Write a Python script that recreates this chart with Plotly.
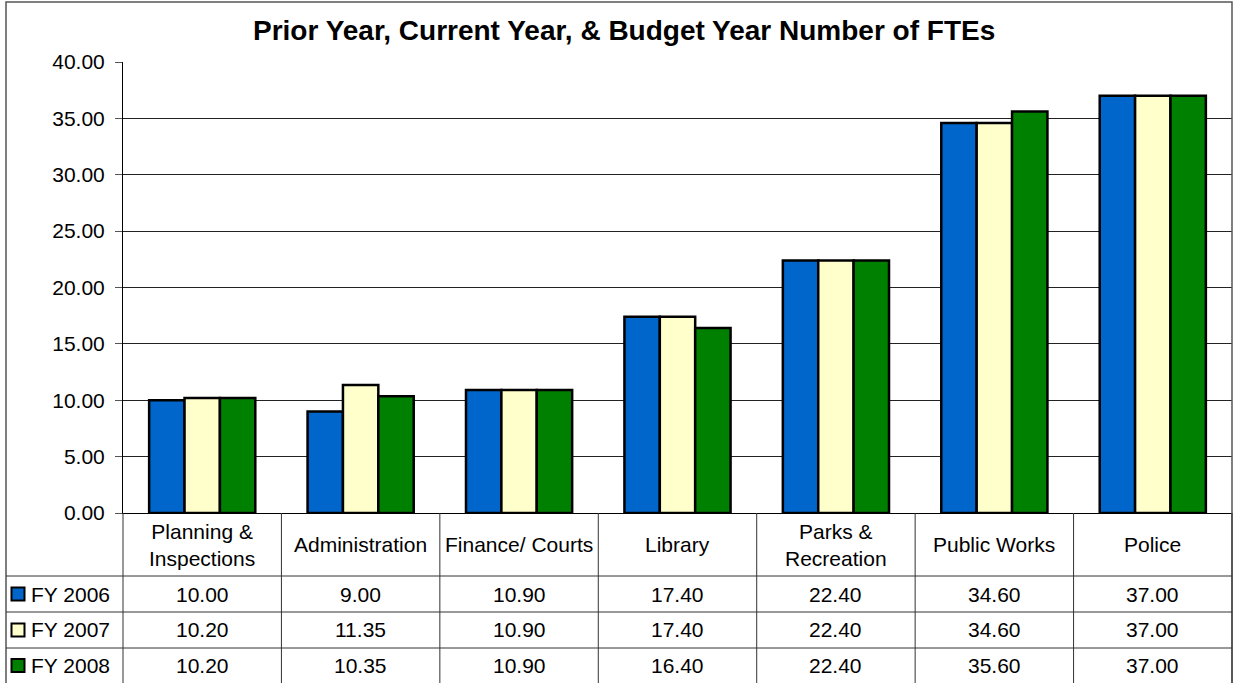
import plotly.graph_objects as go

# ---- data ----
categories = ["Planning &<br>Inspections", "Administration", "Finance/ Courts",
              "Library", "Parks &<br>Recreation", "Public Works", "Police"]
series_names = ["FY 2006", "FY 2007", "FY 2008"]
fy2006 = [10.00, 9.00, 10.90, 17.40, 22.40, 34.60, 37.00]
fy2007 = [10.20, 11.35, 10.90, 17.40, 22.40, 34.60, 37.00]
fy2008 = [10.20, 10.35, 10.90, 16.40, 22.40, 35.60, 37.00]
tick_values = [0, 5, 10, 15, 20, 25, 30, 35, 40]
title_text = "Prior Year, Current Year, & Budget Year Number of FTEs"

series_values = [fy2006, fy2007, fy2008]
colors = ["#0066CC", "#FFFFCC", "#008000"]

# ---- page geometry (pixels) ----
W, H = 1233, 683
L, R, T, B = 123, 1232, 62, 513
FONT = "Liberation Sans, Arial, sans-serif"
LINE = "#333333"
FS = 21


def px(x):
    return (x - L) / (R - L)


def py(y):
    return (B - y) / (B - T)


fig = go.Figure()
n = len(categories)
for name, vals, col in zip(series_names, series_values, colors):
    fig.add_trace(go.Bar(
        x=list(range(n)), y=vals, name=name,
        marker=dict(color=col, line=dict(color="black", width=2.5)),
        showlegend=False,
    ))

shapes = []
annotations = []

# outer frame
shapes.append(dict(type="rect", xref="paper", yref="paper",
                   x0=px(6), x1=px(1232), y0=py(2), y1=py(H + 2),
                   line=dict(color="#555555", width=1.5), layer="above"))

# data table grid
col_w = (R - L) / n
row_lines = [576, 612, 648]
for yl in row_lines:
    shapes.append(dict(type="line", xref="paper", yref="paper",
                       x0=px(6), x1=px(R), y0=py(yl), y1=py(yl),
                       line=dict(color=LINE, width=1)))
for k in range(n + 1):
    xl = L + k * col_w
    shapes.append(dict(type="line", xref="paper", yref="paper",
                       x0=px(xl), x1=px(xl), y0=py(B), y1=py(H + 2),
                       line=dict(color=LINE, width=1)))

# category header labels
for i, c in enumerate(categories):
    annotations.append(dict(x=i, xref="x", y=py(544.5), yref="paper",
                            text=c, showarrow=False,
                            font=dict(family=FONT, size=FS, color="black"),
                            xanchor="center", yanchor="middle"))

# value rows with legend keys
row_centers = [594, 630, 665.5]
for r, (name, vals, col) in enumerate(zip(series_names, series_values, colors)):
    yc = row_centers[r]
    shapes.append(dict(type="rect", xref="paper", yref="paper",
                       x0=px(11.5), x1=px(24.5), y0=py(yc - 6.5), y1=py(yc + 6.5),
                       fillcolor=col, line=dict(color="black", width=2)))
    annotations.append(dict(x=px(29), xref="paper", y=py(yc), yref="paper",
                            text=name, showarrow=False,
                            font=dict(family=FONT, size=FS, color="black"),
                            xanchor="left", yanchor="middle"))
    for i, v in enumerate(vals):
        annotations.append(dict(x=i, xref="x", y=py(yc), yref="paper",
                                text=f"{v:.2f}", showarrow=False,
                                font=dict(family=FONT, size=FS, color="black"),
                                xanchor="center", yanchor="middle"))

# chart title
annotations.append(dict(x=px(624), xref="paper", y=py(31), yref="paper",
                        text=f"<b>{title_text}</b>", showarrow=False,
                        font=dict(family=FONT, size=28, color="black"),
                        xanchor="center", yanchor="middle"))

fig.update_layout(
    width=W, height=H, autosize=False,
    margin=dict(l=L, r=W - R, t=T, b=H - B, pad=0),
    paper_bgcolor="white", plot_bgcolor="white",
    barmode="group", bargap=0.33, bargroupgap=0,
    shapes=shapes, annotations=annotations,
    xaxis=dict(range=[-0.5, n - 0.5], showticklabels=False, showgrid=False,
               zeroline=False, showline=True, linecolor="black", linewidth=1,
               ticks=""),
    yaxis=dict(range=[0, 40], tickvals=tick_values,
               ticktext=[f"{t:.2f}" for t in tick_values],
               showgrid=True, gridcolor="#222222", gridwidth=1,
               zeroline=False, showline=True, linecolor="black", linewidth=1,
               ticks="outside", ticklen=7, tickcolor="#555555",
               ticklabelstandoff=6,
               tickfont=dict(family=FONT, size=FS, color="black")),
)

fig.write_html("out.html")
